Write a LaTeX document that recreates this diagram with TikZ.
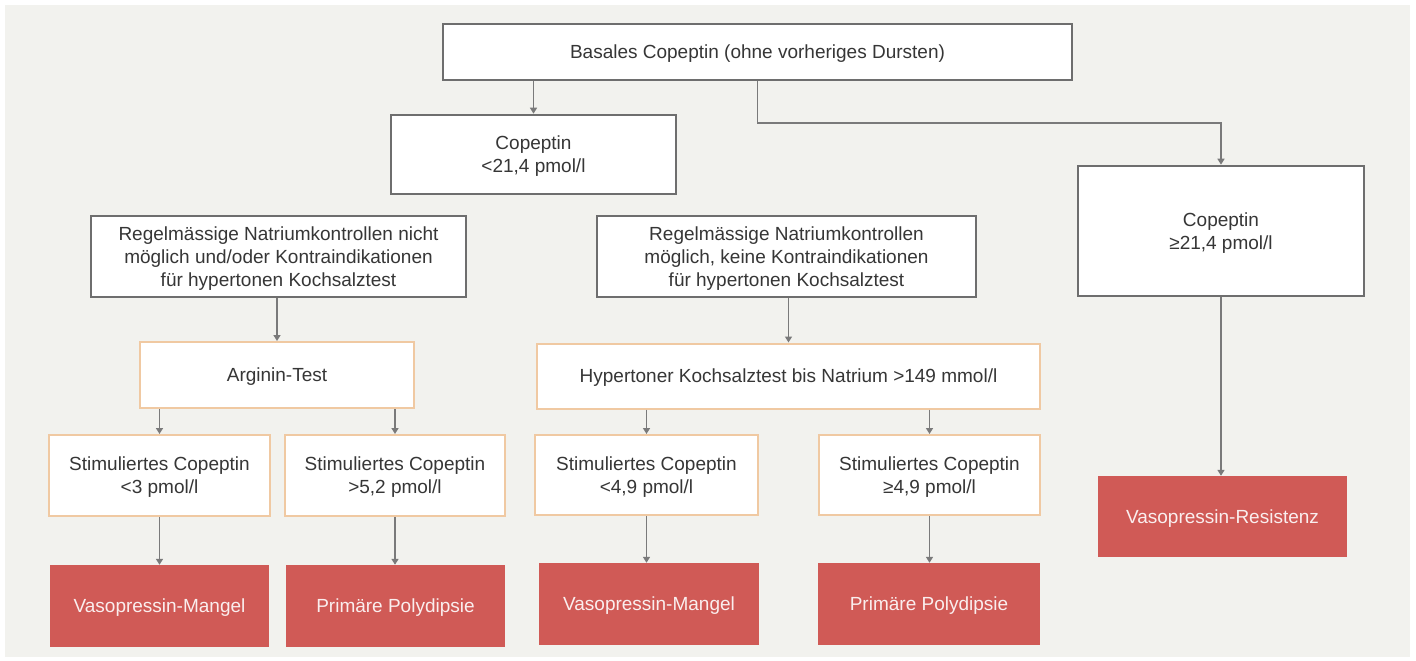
\documentclass[tikz,border=0pt]{standalone}
\usepackage{fontspec}
\setmainfont{Liberation Sans}
\usepackage{tikz}
\usepackage{xcolor}
\usetikzlibrary{arrows.meta}
\definecolor{bgcol}{HTML}{F2F2EE}
\definecolor{linecol}{HTML}{6E6E6E}
\definecolor{arrcol}{HTML}{7A7A7A}
\definecolor{orangecol}{HTML}{F0C9A2}
\definecolor{redcol}{HTML}{D05A56}
\definecolor{txtcol}{HTML}{363636}
\tikzset{%
  tipA/.tip={Triangle[width=7pt,length=6pt]},
  box/.style={rectangle, fill=white, align=center, text=txtcol, inner sep=0pt,
    font=\fontsize{19}{23}\selectfont, text depth=-12pt},
  greybox/.style={box, draw=linecol, line width=2.6pt},
  orangebox/.style={box, draw=orangecol, line width=2pt},
  redbox/.style={box, fill=redcol, draw=none, text=white!90!redcol},
  arr/.style={draw=arrcol, line width=1.8pt, -tipA}
}

\begin{document}
\begin{tikzpicture}[x=1pt,y=-1pt]
\fill[white] (0,0) rectangle (1416,661);
\fill[bgcol] (5,5) rectangle (1410,657);
\useasboundingbox (0,0) rectangle (1416,661);
% top row
\node[greybox, minimum width=629pt, minimum height=56pt] (top) at (757.5,52) {Basales Copeptin (ohne vorheriges Dursten)};
\node[greybox, minimum width=285pt, minimum height=79pt] (copL) at (533.5,154.5) {Copeptin\\<21,4 pmol/l};
\node[greybox, minimum width=286pt, minimum height=130pt] (copH) at (1221,231) {Copeptin\\≥21,4 pmol/l};
\coordinate (knee) at (1000,123);
% conditions
\node[greybox, minimum width=375pt, minimum height=81pt] (condA) at (278.5,256.5) {Regelmässige Natriumkontrollen nicht\\möglich und/oder Kontraindikationen\\für hypertonen Kochsalztest};
\node[greybox, minimum width=379pt, minimum height=81pt] (condB) at (786.5,256.5) {Regelmässige Natriumkontrollen\\möglich, keine Kontraindikationen\\für hypertonen Kochsalztest};
% tests
\node[orangebox, minimum width=274pt, minimum height=66pt] (arg) at (277,375) {Arginin-Test};
\node[orangebox, minimum width=503pt, minimum height=65pt] (hyp) at (788.5,376) {Hypertoner Kochsalztest bis Natrium >149 mmol/l};
% stimulated copeptin
\node[orangebox, minimum width=221pt, minimum height=81pt] (stimA) at (159.5,475.5) {Stimuliertes Copeptin\\<3 pmol/l};
\node[orangebox, minimum width=220pt, minimum height=81pt] (stimB) at (395,475.5) {Stimuliertes Copeptin\\>5,2 pmol/l};
\node[orangebox, minimum width=223pt, minimum height=80pt] (stimC) at (646.5,475) {Stimuliertes Copeptin\\<4,9 pmol/l};
\node[orangebox, minimum width=221pt, minimum height=80pt] (stimD) at (929.5,475) {Stimuliertes Copeptin\\≥4,9 pmol/l};
% results
\node[redbox, minimum width=219pt, minimum height=82pt] (resA) at (159.5,606) {Vasopressin-Mangel};
\node[redbox, minimum width=219pt, minimum height=82pt] (resB) at (395.5,606) {Primäre Polydipsie};
\node[redbox, minimum width=220pt, minimum height=82pt] (resC) at (649,604) {Vasopressin-Mangel};
\node[redbox, minimum width=222pt, minimum height=82pt] (resD) at (929,604) {Primäre Polydipsie};
\node[redbox, minimum width=249pt, minimum height=81pt] (resE) at (1222.5,516.5) {Vasopressin-Resistenz};
% arrows
\draw[arr] (top.south -| copL.north) -- (copL.north);
\draw[arr] (top.south) |- (knee) -| (copH.north);
\draw[arr] (condA.south -| arg.north) -- (arg.north);
\draw[arr] (condB.south -| hyp.north) -- (hyp.north);
\draw[arr] (arg.south -| stimA.north) -- (stimA.north);
\draw[arr] (arg.south -| stimB.north) -- (stimB.north);
\draw[arr] (hyp.south -| stimC.north) -- (stimC.north);
\draw[arr] (hyp.south -| stimD.north) -- (stimD.north);
\draw[arr] (stimA.south) -- (resA.north -| stimA.south);
\draw[arr] (stimB.south) -- (resB.north -| stimB.south);
\draw[arr] (stimC.south) -- (resC.north -| stimC.south);
\draw[arr] (stimD.south) -- (resD.north -| stimD.south);
\draw[arr] (copH.south) -- (resE.north -| copH.south);
\end{tikzpicture}
\end{document}
